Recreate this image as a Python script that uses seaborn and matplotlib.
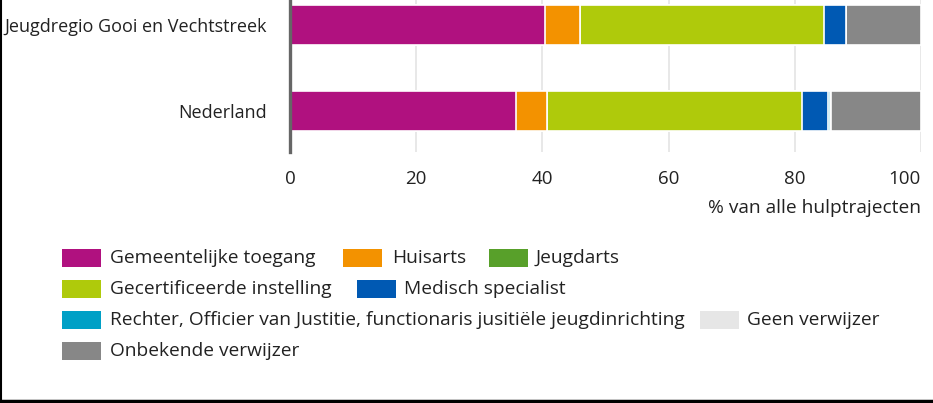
import numpy as np
import pandas as pd
import matplotlib
matplotlib.use("Agg")
import matplotlib.pyplot as plt
import seaborn as sns
from matplotlib.patches import Rectangle
from matplotlib.lines import Line2D

# ---- data ----
regions = ["Jeugdregio Gooi en Vechtstreek", "Nederland"]
series = [
    "Gemeentelijke toegang",
    "Huisarts",
    "Jeugdarts",
    "Gecertificeerde instelling",
    "Medisch specialist",
    "Rechter, Officier van Justitie, functionaris jusitiële jeugdinrichting",
    "Geen verwijzer",
    "Onbekende verwijzer",
]
gemeentelijke_toegang = [40.4, 35.8]
huisarts = [5.6, 5.0]
jeugdarts = [0.0, 0.0]
gecertificeerde_instelling = [38.6, 40.3]
medisch_specialist = [3.5, 4.2]
rechter = [0.0, 0.3]
geen_verwijzer = [0.0, 0.2]
onbekende_verwijzer = [11.9, 14.2]
x_ticks = [0, 20, 40, 60, 80, 100]
x_label = "% van alle hulptrajecten"

colors = ["#B0117F", "#F39200", "#58A02A", "#AFCA0B", "#0059B3",
          "#00A0C6", "#E6E6E6", "#878787"]

values = np.array([gemeentelijke_toegang, huisarts, jeugdarts,
                   gecertificeerde_instelling, medisch_specialist,
                   rechter, geen_verwijzer, onbekende_verwijzer])
cum = np.cumsum(values, axis=0)

sns.set_theme(style="white")
plt.rcParams["font.family"] = ["Open Sans", "DejaVu Sans"]

W, H = 933, 403
fig = plt.figure(figsize=(W / 100, H / 100), dpi=100)
ax = fig.add_axes([290 / W, (H - 152) / H, 631 / W, 152 / H])

for i in reversed(range(len(series))):
    df = pd.DataFrame({"region": regions, "value": cum[i]})
    sns.barplot(data=df, x="value", y="region", orient="h", color=colors[i],
                width=0.465, edgecolor="white", linewidth=1.2, saturation=1,
                ax=ax, zorder=3)

ax.set_xlim(0, 100)
ax.set_ylim(1 + 41 / 86, -25 / 86)
ax.set_xticks(x_ticks)
ax.set_xticklabels([str(t) for t in x_ticks])
ax.set_xlabel("")
ax.set_ylabel("")
ax.grid(axis="x", color="#e6e6e6", lw=1.3, zorder=0)
ax.grid(axis="y", visible=False)
ax.set_axisbelow(True)
for s in ["top", "right", "bottom"]:
    ax.spines[s].set_visible(False)
ax.spines["left"].set_color("#666666")
ax.spines["left"].set_linewidth(2.4)
ax.spines["left"].set_zorder(5)
ax.tick_params(axis="x", length=0, pad=13, labelsize=13.5, labelcolor="#222222")
ax.tick_params(axis="y", length=0, pad=17, labelsize=13.0, labelcolor="#222222")
ax.get_xticklabels()[-1].set_ha("right")
ax.get_xticklabels()[-1].set_x(100)

fig.text(921 / W, 1 - 208 / H, x_label, ha="right", va="center",
         fontsize=13.8, color="#222222")

# ---- legend (flow layout) ----
legend_items = [
    (0, 62, 110, 258), (1, 343, 392, 258), (2, 489, 536, 258),
    (3, 62, 110, 289), (4, 357, 404, 289),
    (5, 62, 110, 320), (6, 700, 747, 320),
    (7, 62, 110, 351),
]
for idx, px, tx, cy in legend_items:
    fig.text(tx / W, 1 - cy / H, series[idx], ha="left", va="center",
             fontsize=13.8, color="#222222", zorder=2)
for idx, px, tx, cy in legend_items:
    fig.add_artist(Rectangle((px / W, 1 - (cy + 9) / H), 39 / W, 18 / H,
                             transform=fig.transFigure, facecolor=colors[idx],
                             edgecolor="none", zorder=3))

# ---- border ----
fig.add_artist(Line2D([0.6 / W, 0.6 / W], [2 / H, 1], transform=fig.transFigure,
                      color="black", lw=1.5))
fig.add_artist(Line2D([0, 1], [2 / H, 2 / H], transform=fig.transFigure,
                      color="black", lw=2.5))

fig.savefig("out.png", dpi=100)
